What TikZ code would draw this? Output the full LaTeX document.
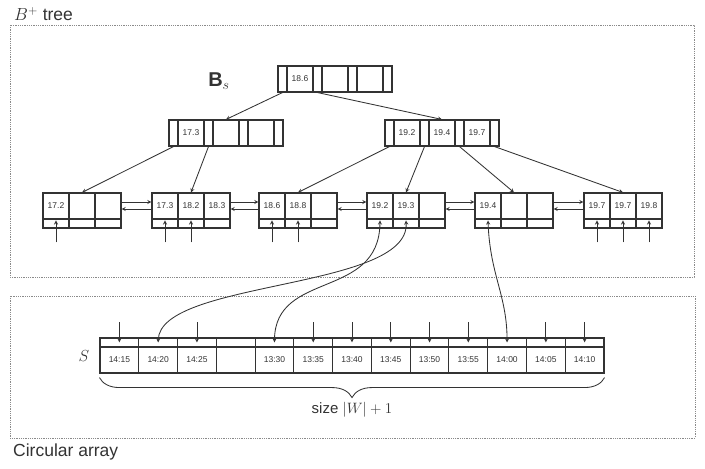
\RequirePackage{fix-cm}
\documentclass[tikz,border=0pt]{standalone}
\usepackage{fontspec}
\setmainfont{Liberation Sans}
\usetikzlibrary{decorations.pathreplacing}
\definecolor{ink}{HTML}{333333}
\definecolor{framegray}{HTML}{8A8A8A}

% inner node of the tree: name, left x, centre y, three keys
\newcommand{\innerrec}[6]{%
  \node[ptrcell] (#1p1) at ({#2+4.5},#3) {};
  \node[keycell] (#1k1) at ({#2+22},#3) {#4};
  \node[ptrcell] (#1p2) at ({#2+39.5},#3) {};
  \node[keycell] (#1k2) at ({#2+57},#3) {#5};
  \node[ptrcell] (#1p3) at ({#2+74.5},#3) {};
  \node[keycell] (#1k3) at ({#2+92},#3) {#6};
  \node[ptrcell] (#1p4) at ({#2+109.5},#3) {};
}
% leaf: name, left x, three keys
\newcommand{\leafrec}[5]{%
  \node[keycell] (#1k1) at ({#2+13},206) {#3};
  \node[keycell] (#1k2) at ({#2+39},206) {#4};
  \node[keycell] (#1k3) at ({#2+65},206) {#5};
  \node[leafptr] (#1p1) at ({#2+13},223.5) {};
  \node[leafptr] (#1p2) at ({#2+39},223.5) {};
  \node[leafptr] (#1p3) at ({#2+65},223.5) {};
}

\begin{document}
\begin{tikzpicture}[x=1pt,y=-1pt,
  >=stealth,
  keycell/.style={draw=ink, line width=1.1pt, minimum width=26pt, minimum height=26pt,
    inner sep=0pt, text=ink, font=\fontsize{8.5}{10}\selectfont},
  ptrcell/.style={draw=ink, line width=1.1pt, minimum width=9pt, minimum height=26pt, inner sep=0pt},
  leafptr/.style={draw=ink, line width=1.1pt, minimum width=26pt, minimum height=9pt, inner sep=0pt},
  arrkey/.style={keycell, minimum width=38.77pt, font=\fontsize{8.5}{10}\selectfont},
  arrptr/.style={leafptr, minimum width=38.77pt},
  link/.style={draw=ink, line width=0.85pt},
  frame/.style={draw=framegray, densely dotted, line width=0.8pt},
  title/.style={anchor=west, text=ink, inner sep=0pt, font=\fontsize{17.5}{20}\selectfont}]
\useasboundingbox (0,0) rectangle (705,469);

% frames
\draw[frame] (10,25) rectangle (694,277);
\draw[frame] (10,296) rectangle (695,438);
\node[title] (treetitle) at (14,14) {$B^+$ tree};
\node[title] (arraytitle) at (13,452) {Circular array};

% B+ tree
\node[text=ink, font=\fontsize{20}{22}\selectfont] (bslabel) at (219,81) {$\mathbf{B}_s$};
\innerrec{root}{278}{79}{18.6}{}{}
\innerrec{lin}{169}{133}{17.3}{}{}
\innerrec{rin}{385}{133}{19.2}{19.4}{19.7}

\leafrec{la}{43}{17.2}{}{}
\leafrec{lb}{152}{17.3}{18.2}{18.3}
\leafrec{lc}{259}{18.6}{18.8}{}
\leafrec{ld}{367}{19.2}{19.3}{}
\leafrec{le}{475}{19.4}{}{}
\leafrec{lf}{584}{19.7}{19.7}{19.8}

\draw[link,->] (rootp1.south) -- (link2.north);
\draw[link,->] (rootp2.south) -- (rink2.north);
\draw[link,->] (linp1.south) -- (lak2.north);
\draw[link,->] (linp2.south) -- (lbk2.north);
\draw[link,->] (rinp1.south) -- (lck2.north);
\draw[link,->] (rinp2.south) -- (ldk2.north);
\draw[link,->] (rinp3.south) -- (lek2.north);
\draw[link,->] (rinp4.south) -- (lfk2.north);

% sibling links
\foreach \a/\b in {la/lb,lb/lc,lc/ld,ld/le,le/lf} {
  \draw[link,->] ([yshift=4pt]\a k3.east) -- ([yshift=4pt]\b k1.west);
  \draw[link,->] ([yshift=-3pt]\b k1.west) -- ([yshift=-3pt]\a k3.east);
}
\foreach \c in {lap1,lbp1,lbp2,lcp1,lcp2,lfp1,lfp2,lfp3}
  \draw[link,->] ([yshift=-24pt]\c.north) -- ([yshift=-2pt]\c.north);

% circular array
\node[text=ink, font=\fontsize{16}{18}\selectfont] (slabel) at (84,356) {$S$};
\foreach \i/\t in {1/14:15,2/14:20,3/14:25,4/{},5/13:30,6/13:35,7/13:40,8/13:45,
                   9/13:50,10/13:55,11/14:00,12/14:05,13/14:10} {
  \node[arrkey] (ak\i) at ({100+38.77*(\i-0.5)},360) {\t};
  \node[arrptr] (ap\i) at ({100+38.77*(\i-0.5)},342.5) {};
}
\foreach \i in {1,3,6,7,8,9,10,12,13}
  \draw[link,->] ([yshift=15pt]ap\i.north) -- ([yshift=-5pt]ap\i.north);

\draw[link,<->] ([yshift=-2pt]ldp2.north) .. controls (410,290) and (160,280) .. ([yshift=-5pt]ap2.north);
\draw[link,<->] ([yshift=-2pt]ldp1.north) .. controls (379,300) and (275,270) .. ([yshift=-5pt]ap5.north);
\draw[link,<->] ([yshift=-2pt]lep1.north) .. controls (490,275) and (507,295) .. ([yshift=-5pt]ap11.north);

\draw[link, decorate, decoration={brace, mirror, amplitude=20pt}]
  ([yshift=-4pt]ak1.south west) -- ([yshift=-4pt]ak13.south east)
  node[midway, below=21pt, text=ink, font=\fontsize{15}{17}\selectfont] (sizelabel) {size $|W|+1$};
\end{tikzpicture}
\end{document}
